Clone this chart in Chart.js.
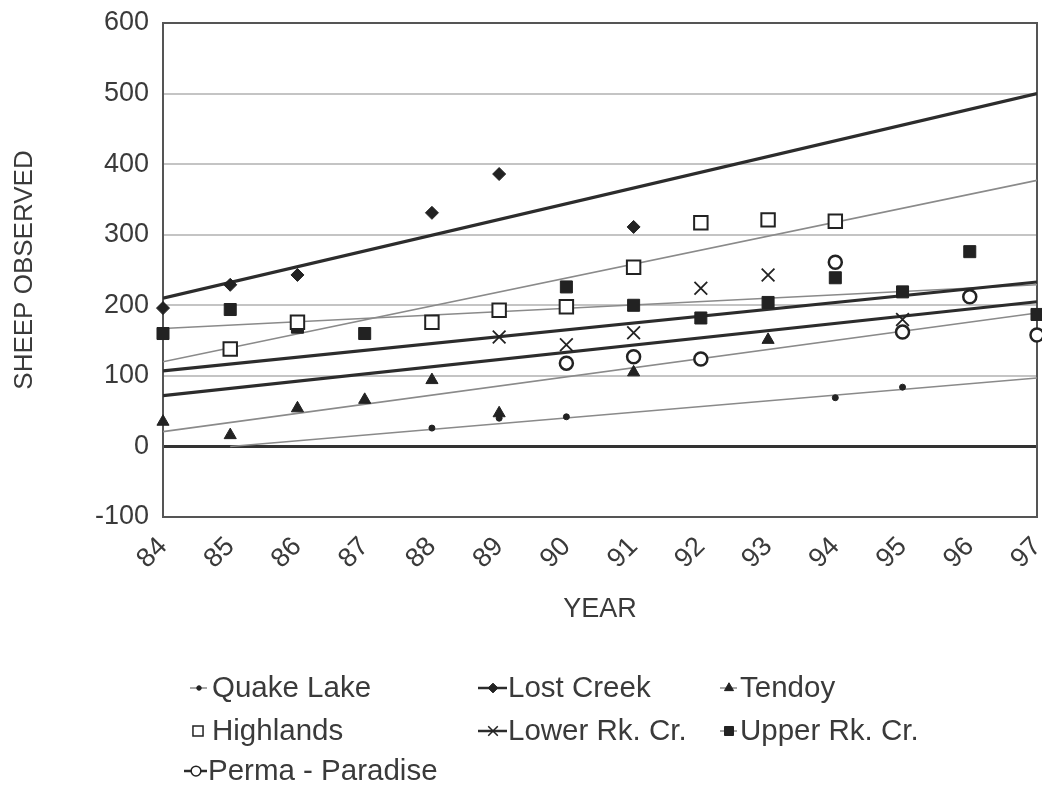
<!DOCTYPE html>
<html>
<head>
<meta charset="utf-8">
<script src="https://cdn.jsdelivr.net/npm/chart.js@4"></script>
<style>
  body { margin: 0; background: #fff; }
  canvas { display: block; }
</style>
</head>
<body>
<canvas id="sheepChart" width="1042" height="785"></canvas>
<script>
// years on the x axis (19xx)
const years = [84, 85, 86, 87, 88, 89, 90, 91, 92, 93, 94, 95, 96, 97];

// sheep observed per area, null = no count that year
const quakeLake = [null, null, null, null, 26, 40, 42, null, null, null, 69, 84, null, null];
const lostCreek = [196, 229, 243, null, 331, 386, null, 311, null, null, null, null, null, null];
const tendoy = [35, 16, 54, 66, 94, 47, null, 105, null, 151, null, null, null, null];
const highlands = [null, 138, 176, null, 176, 193, 198, 254, 317, 321, 319, null, null, null];
const lowerRk = [null, null, null, null, null, 155, 144, 161, 224, 243, null, 180, null, null];
const upperRk = [160, 194, 169, 160, null, null, 226, 200, 182, 204, 239, 219, 276, 187];
const perma = [null, null, null, null, null, null, 118, 127, 124, null, 261, 162, 212, 158];

// trend lines: start / end year and value
const trendYears = [84, 97];
const quakeTrendYears = [85, 97];
const quakeLakeTrend = [0, 97];
const lostCreekTrend = [210, 500];
const tendoyTrend = [21, 189];
const highlandsTrend = [120, 377];
const lowerRkTrend = [107, 233];
const upperRkTrend = [167, 229];
const permaTrend = [72, 205];

const yTicks = [-100, 0, 100, 200, 300, 400, 500, 600];

const textColor = '#3a3a3a';
const fontFamily = '"Liberation Sans", Arial, sans-serif';

function toPoints(xs, ys) {
    return xs.map((x, i) => ({ x: x, y: ys[i] })).filter(p => p.y !== null);
}

// Serie: nome, dati, stile marker
const series = [
    { label: 'Quake Lake', data: quakeLake, trend: quakeLakeTrend, tx: quakeTrendYears, style: 'circle', r: 3, fill: '#222', bw: 1, thick: false },
    { label: 'Lost Creek', data: lostCreek, trend: lostCreekTrend, tx: trendYears, style: 'rectRot', r: 6.5, fill: '#222', bw: 1, thick: true },
    { label: 'Tendoy', data: tendoy, trend: tendoyTrend, tx: trendYears, style: 'triangle', r: 7, fill: '#222', bw: 1, thick: false },
    { label: 'Highlands', data: highlands, trend: highlandsTrend, tx: trendYears, style: 'rect', r: 9.5, fill: '#fff', bw: 2, thick: false },
    { label: 'Lower Rk. Cr.', data: lowerRk, trend: lowerRkTrend, tx: trendYears, style: 'crossRot', r: 9, fill: '#444', bw: 1.8, thick: true },
    { label: 'Upper Rk. Cr.', data: upperRk, trend: upperRkTrend, tx: trendYears, style: 'rect', r: 8.5, fill: '#222', bw: 1, thick: false },
    { label: 'Perma - Paradise', data: perma, trend: permaTrend, tx: trendYears, style: 'circle', r: 6.5, fill: '#fff', bw: 2.5, thick: true }
];

const datasets = [];
series.forEach(s => {
    datasets.push({
        label: s.label + ' trend',
        data: toPoints(s.tx, s.trend),
        borderColor: s.thick ? '#2c2c2c' : '#8a8a8a',
        borderWidth: s.thick ? 3.2 : 1.6,
        pointRadius: 0,
        showLine: true,
        order: 2
    });
});
series.forEach(s => {
    datasets.push({
        label: s.label,
        data: toPoints(years, s.data),
        showLine: false,
        clip: false,
        pointStyle: s.style,
        pointRadius: s.r,
        pointBackgroundColor: s.fill,
        pointBorderColor: '#222',
        pointBorderWidth: s.bw,
        order: 1
    });
});

// legenda disegnata a mano su tre colonne
const legendPos = [
    { mx: 199, tx: 212, y: 688, line: [190, 207] },
    { mx: 493, tx: 508, y: 688, line: [478, 507] },
    { mx: 729, tx: 740, y: 688, line: [720, 737] },
    { mx: 198, tx: 212, y: 731, line: null },
    { mx: 493, tx: 508, y: 731, line: [478, 507] },
    { mx: 729, tx: 740, y: 731, line: [720, 737] },
    { mx: 196, tx: 208, y: 771, line: [184, 207] }
];

const framePlugin = {
    id: 'frame',
    beforeDatasetsDraw(chart) {
        const ctx = chart.ctx;
        const a = chart.chartArea;
        ctx.save();
        ctx.strokeStyle = '#555';
        ctx.lineWidth = 2;
        ctx.strokeRect(a.left, a.top, a.right - a.left, a.bottom - a.top);
        ctx.restore();
    },
    afterDraw(chart) {
        const ctx = chart.ctx;
        ctx.save();
        ctx.font = '29.5px ' + fontFamily;
        ctx.textBaseline = 'middle';
        series.forEach((s, i) => {
            const p = legendPos[i];
            if (p.line) {
                ctx.strokeStyle = s.thick ? '#2c2c2c' : '#8a8a8a';
                ctx.lineWidth = s.thick ? 2.5 : 1.5;
                ctx.beginPath();
                ctx.moveTo(p.line[0], p.y);
                ctx.lineTo(p.line[1], p.y);
                ctx.stroke();
            }
            ctx.fillStyle = s.fill;
            ctx.strokeStyle = '#222';
            ctx.lineWidth = Math.min(s.bw, 1.5);
            Chart.helpers.drawPoint(ctx, { pointStyle: s.style, radius: s.r * 0.75, borderWidth: 1, rotation: 0 }, p.mx, p.y);
            ctx.fillStyle = textColor;
            ctx.fillText(s.label, p.tx, p.y + 1);
        });
        ctx.restore();
    }
};

new Chart(document.getElementById('sheepChart'), {
    type: 'scatter',
    data: { datasets: datasets },
    options: {
        responsive: false,
        animation: false,
        layout: { autoPadding: false, padding: { top: 23, right: 5, bottom: 155, left: 5 } },
        plugins: {
            legend: { display: false },
            tooltip: { enabled: false }
        },
        scales: {
            x: {
                type: 'linear',
                min: 84,
                max: 97,
                afterFit: s => { s.height = 113; s.paddingLeft = 0; s.paddingRight = 0; },
                ticks: {
                    stepSize: 1,
                    minRotation: 45,
                    maxRotation: 45,
                    color: textColor,
                    font: { family: fontFamily, size: 27 },
                    padding: 6
                },
                grid: { display: false },
                border: { display: false },
                title: {
                    display: true,
                    text: 'YEAR',
                    color: textColor,
                    font: { family: fontFamily, size: 27 },
                    padding: { top: 12 }
                }
            },
            y: {
                min: -100,
                max: 600,
                afterFit: s => { s.width = 158; s.paddingTop = 0; s.paddingBottom = 0; },
                afterBuildTicks: s => { s.ticks = yTicks.map(v => ({ value: v })); },
                ticks: {
                    color: textColor,
                    font: { family: fontFamily, size: 27 },
                    padding: 14
                },
                grid: {
                    color: c => c.tick && c.tick.value === 0 ? '#333' : '#c4c4c4',
                    lineWidth: c => c.tick && c.tick.value === 0 ? 3 : 2,
                    drawTicks: false
                },
                border: { display: false },
                title: {
                    display: true,
                    text: 'SHEEP OBSERVED',
                    color: textColor,
                    font: { family: fontFamily, size: 26 },
                    padding: { bottom: 0 }
                }
            }
        }
    },
    plugins: [framePlugin]
});
</script>
</body>
</html>
